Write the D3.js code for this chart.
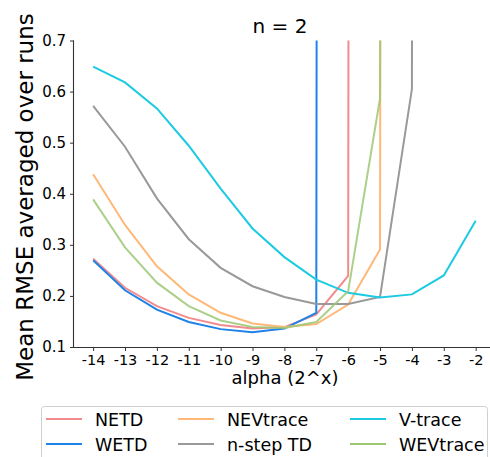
<!DOCTYPE html>
<html><head><meta charset="utf-8">
<script src="https://cdn.jsdelivr.net/npm/d3@7"></script>
<style>body{margin:0;background:#fff}svg{display:block}text{font-family:"DejaVu Sans",sans-serif}</style>
</head><body>
<script>
const alphas = [-14,-13,-12,-11,-10,-9,-8,-7,-6,-5,-4,-3,-2];
const seriesNames = ["NETD","WETD","NEVtrace","n-step TD","V-trace","WEVtrace"];
// diverged runs are shown as very large values (they leave the top of the plot)
const NETD      = [0.273,0.216,0.180,0.157,0.143,0.136,0.139,0.164,0.239,50,50,50,50];
const WETD      = [0.270,0.211,0.173,0.149,0.135,0.129,0.136,0.167,50,50,50,50,50];
const NEVtrace  = [0.438,0.339,0.258,0.203,0.167,0.146,0.139,0.145,0.183,0.291,50,50,50];
const nstepTD   = [0.572,0.492,0.391,0.311,0.255,0.219,0.198,0.184,0.184,0.198,0.605,50,50];
const Vtrace    = [0.649,0.618,0.567,0.494,0.410,0.332,0.276,0.232,0.206,0.197,0.203,0.240,0.347];
const WEVtrace  = [0.389,0.295,0.226,0.180,0.152,0.139,0.137,0.149,0.209,0.587,50,50,50];
const seriesValues = [NETD,WETD,NEVtrace,nstepTD,Vtrace,WEVtrace];
const colors = ["#f28b8d","#1f82e6","#ffb877","#999999","#1ccbe2","#9cc874"];
const yTicks = [0.1,0.2,0.3,0.4,0.5,0.6,0.7];

const W=490,H=457;
const L=74,R=494.8,T=40.5,B=347;
const svg=d3.select("body").append("svg").attr("width",W).attr("height",H);
const x=d3.scaleLinear().domain([-14.6,-1.4]).range([L,R]);
const y=d3.scaleLinear().domain([0.1,0.7]).range([B,T]);

svg.append("defs").append("clipPath").attr("id","clip")
  .append("rect").attr("x",L).attr("y",T).attr("width",R-L).attr("height",B-T);

const line=d3.line().x((d,i)=>x(alphas[i])).y(d=>y(d));
const g=svg.append("g").attr("clip-path","url(#clip)");
seriesValues.forEach((vals,k)=>{
  g.append("path").datum(vals).attr("d",line)
   .attr("fill","none").attr("stroke",colors[k]).attr("stroke-width",2)
   .attr("stroke-opacity",k===5?0.85:1);
});

const xa=svg.append("g").attr("transform",`translate(0,${B})`)
  .call(d3.axisBottom(x).tickValues(alphas).tickFormat(d=>d.toString().replace("−","-")).tickSize(4).tickPadding(4));
xa.select(".domain").attr("stroke","#333").attr("stroke-width",1.1).attr("d",`M${L},0.5H${R}`);
xa.selectAll(".tick line").attr("stroke","#333");
xa.selectAll("text").attr("font-size",14.5).attr("font-family","DejaVu Sans").attr("fill","#000");

const ya=svg.append("g").attr("transform",`translate(${L},0)`)
  .call(d3.axisLeft(y).tickValues(yTicks).tickFormat(d3.format(".1f")).tickSize(4).tickPadding(4));
ya.select(".domain").attr("stroke","#333").attr("stroke-width",1.1).attr("d",`M-0.5,${T}V${B}`);
ya.selectAll(".tick line").attr("stroke","#333");
ya.selectAll("text").attr("font-size",15).attr("font-family","DejaVu Sans").attr("fill","#000");

svg.append("text").attr("x",280).attr("y",33).attr("text-anchor","middle")
  .attr("font-size",20).text("n = 2");
svg.append("text").attr("transform","translate(33,197) rotate(-90)").attr("text-anchor","middle")
  .attr("font-size",23).text("Mean RMSE averaged over runs");
svg.append("text").attr("x",285).attr("y",384).attr("text-anchor","middle")
  .attr("font-size",18).text("alpha (2^x)");

// legend
svg.append("rect").attr("x",41.5).attr("y",406.5).attr("width",446).attr("height",70)
  .attr("rx",3).attr("fill","#fff").attr("stroke","#d0d0d0");
const colX=[46,178,350], rowY=[419,444];
seriesNames.forEach((n,k)=>{
  const c=Math.floor(k/2), r=k%2;
  svg.append("line").attr("x1",colX[c]).attr("x2",colX[c]+36).attr("y1",rowY[r]).attr("y2",rowY[r])
    .attr("stroke",colors[k]).attr("stroke-width",2);
  svg.append("text").attr("x",colX[c]+49).attr("y",rowY[r]+7).attr("font-size",17.5).text(n);
});
</script>
</body></html>
